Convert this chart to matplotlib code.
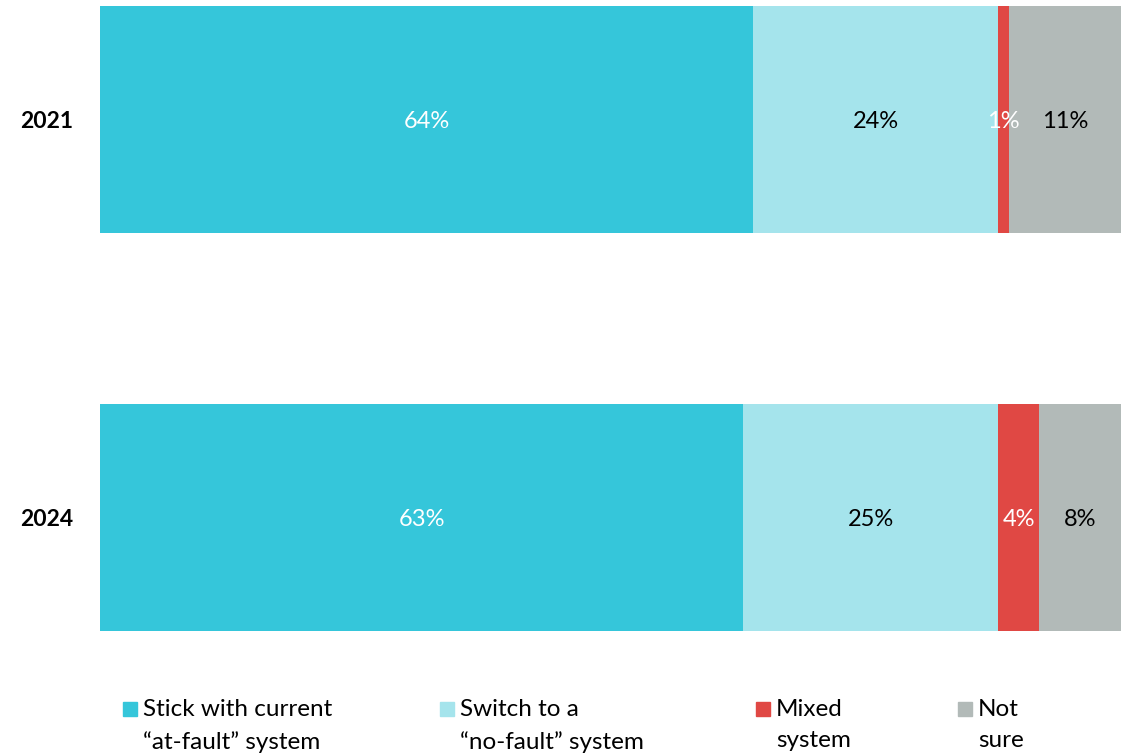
import matplotlib.pyplot as plt
from matplotlib.patches import Rectangle

plt.rcParams['font.family'] = ['Lato', 'DejaVu Sans']

years = ["2021", "2024"]
categories = ["Stick with current\n\u201cat-fault\u201d system",
              "Switch to a\n\u201cno-fault\u201d system",
              "Mixed\nsystem",
              "Not\nsure"]
values = {
    "2021": [64, 24, 1, 11],
    "2024": [63, 25, 4, 8],
}
colors = ["#35C6DA", "#A5E4EC", "#E04844", "#B2BAB8"]
label_colors = ["white", "black", "white", "black"]

W, H = 1126, 754
fig = plt.figure(figsize=(W / 100, H / 100), dpi=100)
ax = fig.add_axes([100 / W, 1 - 660 / H, (1121 - 100) / W, 660 / H])

bar_h = 227 / 398
for i, yr in enumerate(years):
    left = 0
    for j, v in enumerate(values[yr]):
        ax.barh(i, v, left=left, height=bar_h, color=colors[j], linewidth=0)
        ax.text(left + v / 2, i, f"{v}%", ha="center", va="center_baseline",
                fontsize=17, color=label_colors[j])
        left += v

ax.set_xlim(0, 100)
ax.set_ylim((660 - 119.5) / 398, -119.5 / 398)
ax.set_yticks(range(len(years)))
ax.set_yticklabels(years, fontsize=16.5, fontweight="bold")
ax.tick_params(axis="y", length=0, pad=19.5)
ax.set_xticks([])
for s in ax.spines.values():
    s.set_visible(False)

# legend drawn manually so the swatch sits on the first line
legend_x = [123, 440, 756, 958]
for x, lab, c in zip(legend_x, categories, colors):
    fig.patches.append(Rectangle((x / W, 1 - 716 / H), 14 / W, 14 / H,
                                 transform=fig.transFigure, color=c))
    fig.text((x + 20) / W, 1 - 699 / H, lab, ha="left", va="top",
             fontsize=17.5, linespacing=1.6)

fig.savefig("out.png", dpi=100)
